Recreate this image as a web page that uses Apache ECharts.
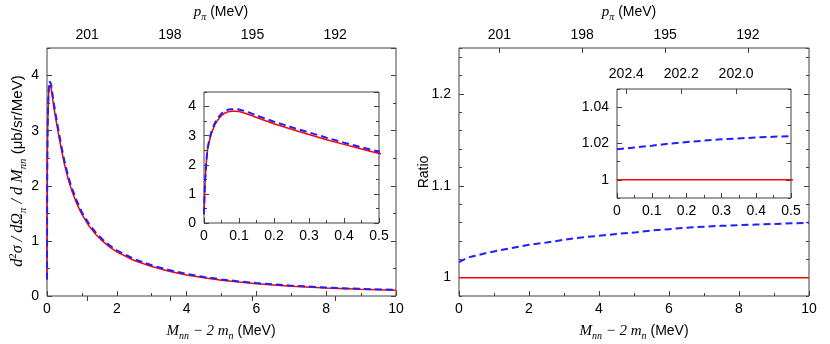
<!DOCTYPE html>
<html><head><meta charset="utf-8">
<script src="https://cdn.jsdelivr.net/npm/echarts@6/dist/echarts.min.js"></script>
<style>html,body{margin:0;padding:0;background:#fff}#c{width:830px;height:344px}</style>
</head><body><div id="c"></div>
<script>
// ---- data ----
const massX = [0, 0.002, 0.004, 0.007, 0.01, 0.015, 0.02, 0.03, 0.04, 0.05, 0.06, 0.07, 0.08, 0.09, 0.1, 0.115, 0.13, 0.16, 0.2, 0.25, 0.3, 0.35, 0.4, 0.45, 0.5, 0.6, 0.7, 0.85, 1.0, 1.2, 1.4, 1.6, 1.8, 2.0, 2.5, 3.0, 3.5, 4.0, 4.5, 5.0, 5.5, 6.0, 7.0, 8.0, 9.0, 10];
const crossRed = [0.3, 1.1, 1.6, 2.12, 2.5, 2.8, 3.03, 3.35, 3.55, 3.69, 3.78, 3.825, 3.84, 3.84, 3.83, 3.78, 3.72, 3.58, 3.41, 3.22, 3.04, 2.86, 2.70, 2.54, 2.39, 2.135, 1.93, 1.68, 1.48, 1.275, 1.115, 0.99, 0.886, 0.80, 0.645, 0.535, 0.45, 0.383, 0.33, 0.287, 0.252, 0.222, 0.178, 0.146, 0.122, 0.105];
const crossBlue = [0.3, 1.12, 1.63, 2.16, 2.55, 2.85, 3.09, 3.41, 3.62, 3.76, 3.85, 3.895, 3.91, 3.91, 3.90, 3.85, 3.79, 3.65, 3.48, 3.29, 3.11, 2.93, 2.76, 2.60, 2.45, 2.19, 1.98, 1.73, 1.52, 1.313, 1.15, 1.022, 0.916, 0.828, 0.67, 0.557, 0.47, 0.40, 0.346, 0.301, 0.265, 0.234, 0.188, 0.154, 0.129, 0.111];
const ratioX = [0, 0.05, 0.1, 0.15, 0.2, 0.25, 0.3, 0.35, 0.4, 0.45, 0.5, 0.75, 1, 1.5, 2, 2.5, 3, 3.5, 4, 4.5, 5, 5.5, 6, 6.5, 7, 7.5, 8, 8.5, 9, 9.5, 10];
const ratioBlue = [1.0168, 1.0178, 1.0188, 1.0199, 1.0208, 1.0216, 1.0223, 1.0228, 1.0233, 1.0237, 1.0241, 1.0266, 1.0285, 1.0322, 1.0358, 1.0382, 1.0412, 1.0438, 1.0455, 1.0476, 1.0490, 1.0513, 1.0528, 1.0543, 1.0555, 1.0564, 1.0571, 1.0578, 1.0585, 1.0591, 1.0597];
const ratioRedX = [0, 10];
const ratioRedY = [1, 1];
const pTicksMain = [201, 198, 195, 192];
const pTicksInset = [202.4, 202.2, 202.0];
const ratioMajor = [1, 1.1, 1.2];
const insetRatioMajor = [1, 1.02, 1.04];

// ---- styles ----
const SANS = '"Liberation Sans", Arial, sans-serif';
const SERIF = '"Liberation Serif", "Times New Roman", serif';
const AXC = '#404040';
const RED = '#ff0000', BLUE = '#1f1fff';
const LBL = {color: '#000', fontSize: 14, fontFamily: SANS};
const tick = (len, extra) => Object.assign({show: true, inside: true, length: len, lineStyle: {color: AXC, width: 1}}, extra || {});
const noLine = {show: false};
const noSplit = {show: false};
const noLbl = {show: false};
const zip = (a, b) => a.map((v, i) => [v, b[i]]);

const grids = [
  {left: 47, top: 48, width: 349, height: 248},
  {left: 459, top: 48, width: 350, height: 248},
  {left: 204, top: 92, width: 175, height: 131},
  {left: 617, top: 89, width: 174, height: 109}
].map(g => Object.assign(g, {show: true, borderColor: AXC, borderWidth: 1, backgroundColor: '#fff', containLabel: false}));

const fmtInsetX = v => v === 0 ? '0' : v.toFixed(1);
const fmtR = v => v === 1 ? '1' : String(+v.toFixed(2));

// axis helper: value axis
function ax(grid, pos, min, max, o) {
  return Object.assign({gridIndex: grid, type: 'value', position: pos, min, max, axisLine: noLine, splitLine: noSplit, axisLabel: noLbl, axisTick: tick(5)}, o);
}

const xAxis = [
  // grid 0
  ax(0, 'bottom', 0, 10, {interval: 2, axisLabel: Object.assign({margin: 6}, LBL)}),
  ax(0, 'bottom', 0, 10, {interval: 1, axisTick: tick(3)}),
  ax(0, 'top', 189.79, 202.46, {inverse: true, axisTick: tick(5, {customValues: pTicksMain}), axisLabel: Object.assign({margin: 6, customValues: pTicksMain}, LBL)}),
  // grid 1
  ax(1, 'bottom', 0, 10, {interval: 2, axisLabel: Object.assign({margin: 6}, LBL)}),
  ax(1, 'bottom', 0, 10, {interval: 1, axisTick: tick(3)}),
  ax(1, 'top', 189.79, 202.46, {inverse: true, axisTick: tick(5, {customValues: pTicksMain}), axisLabel: Object.assign({margin: 6, customValues: pTicksMain}, LBL)}),
  // grid 2 (left inset)
  ax(2, 'bottom', 0, 0.5, {interval: 0.1, axisLabel: Object.assign({margin: 6, formatter: fmtInsetX}, LBL)}),
  ax(2, 'bottom', 0, 0.5, {interval: 0.05, axisTick: tick(3)}),
  // grid 3 (right inset)
  ax(3, 'bottom', 0, 0.5, {interval: 0.1, axisLabel: Object.assign({margin: 6, formatter: fmtInsetX}, LBL)}),
  ax(3, 'bottom', 0, 0.5, {interval: 0.05, axisTick: tick(3)}),
  ax(3, 'top', 201.80, 202.434, {inverse: true, axisTick: tick(5, {customValues: pTicksInset}), axisLabel: Object.assign({margin: 8, customValues: pTicksInset, formatter: v => v.toFixed(1)}, LBL)})
];

const yAxis = [
  // grid 0 : 0..3
  ax(0, 'left', 0, 4.5, {interval: 1, axisLabel: Object.assign({margin: 8, showMaxLabel: false}, LBL)}),
  ax(0, 'left', 0, 4.5, {interval: 0.5, axisTick: tick(3)}),
  ax(0, 'right', 0, 4.5, {interval: 1}),
  ax(0, 'right', 0, 4.5, {interval: 0.5, axisTick: tick(3)}),
  // grid 1 : 4..7
  ax(1, 'left', 0.98, 1.25, {axisTick: tick(5, {customValues: ratioMajor}), axisLabel: Object.assign({margin: 8, customValues: ratioMajor, formatter: fmtR}, LBL)}),
  ax(1, 'left', 0.98, 1.25, {interval: 0.02, axisTick: tick(3)}),
  ax(1, 'right', 0.98, 1.25, {axisTick: tick(5, {customValues: ratioMajor})}),
  ax(1, 'right', 0.98, 1.25, {interval: 0.02, axisTick: tick(3)}),
  // grid 2 : 8..11
  ax(2, 'left', 0, 4.5, {interval: 1, axisLabel: Object.assign({margin: 8, showMaxLabel: false}, LBL)}),
  ax(2, 'left', 0, 4.5, {interval: 0.5, axisTick: tick(3)}),
  ax(2, 'right', 0, 4.5, {interval: 1}),
  ax(2, 'right', 0, 4.5, {interval: 0.5, axisTick: tick(3)}),
  // grid 3 : 12..15
  ax(3, 'left', 0.99, 1.05, {axisTick: tick(5, {customValues: insetRatioMajor}), axisLabel: Object.assign({margin: 8, customValues: insetRatioMajor, formatter: fmtR}, LBL)}),
  ax(3, 'left', 0.99, 1.05, {interval: 0.01, axisTick: tick(3)}),
  ax(3, 'right', 0.99, 1.05, {axisTick: tick(5, {customValues: insetRatioMajor})}),
  ax(3, 'right', 0.99, 1.05, {interval: 0.01, axisTick: tick(3)})
];

const base = {type: 'line', showSymbol: false, symbol: 'none', smooth: false, clip: true, silent: true, animation: false};
const redLine = (xi, yi, data) => Object.assign({}, base, {xAxisIndex: xi, yAxisIndex: yi, data, lineStyle: {color: RED, width: 1.5}, z: 3});
const blueLine = (xi, yi, data) => Object.assign({}, base, {xAxisIndex: xi, yAxisIndex: yi, data, lineStyle: {color: BLUE, width: 2, type: [7, 4]}, z: 4});

const series = [
  redLine(0, 0, zip(massX, crossRed)),
  blueLine(0, 0, zip(massX, crossBlue)),
  redLine(6, 8, zip(massX, crossRed)),
  blueLine(6, 8, zip(massX, crossBlue)),
  redLine(3, 4, zip(ratioRedX, ratioRedY)),
  blueLine(3, 4, zip(ratioX, ratioBlue)),
  redLine(8, 12, zip(ratioRedX, ratioRedY)),
  blueLine(8, 12, zip(ratioX, ratioBlue))
];

const mkRich = (k) => ({
  i: {fontFamily: SERIF, fontStyle: 'italic', fontSize: 15 * k, lineHeight: 20 * k, color: '#000'},
  s: {fontFamily: SERIF, fontStyle: 'italic', fontSize: 10 * k, lineHeight: 10 * k, verticalAlign: 'bottom', color: '#000'},
  u: {fontFamily: SERIF, fontSize: 10 * k, lineHeight: 10 * k, verticalAlign: 'top', color: '#000'},
  r: {fontFamily: SANS, fontSize: 14 * k, lineHeight: 20 * k, color: '#000'}
});
const txt = (x, y, text, rot, k) => ({type: 'text', x, y, rotation: rot || 0, silent: true, z: 10,
  style: {text, rich: mkRich(k || 1), align: 'center', verticalAlign: 'middle', fill: '#000'}});

const xTitle = '{i|M}{s|nn}{i| − 2 m}{s|n}{r| (MeV)}';
const pTitle = '{i|p}{s|π}{r| (MeV)}';
const graphic = [
  txt(221, 331, xTitle),
  txt(634, 331, xTitle),
  txt(221, 12, pTitle),
  txt(629, 12, pTitle),
  txt(18, 171, '{i|d}{u|2}{i|σ / dΩ}{s|π}{i| / d M}{s|nn}{r| (μb/sr/MeV)}', Math.PI / 2, 1.08),
  txt(424, 172, '{r|Ratio}', Math.PI / 2)
];

const chart = echarts.init(document.getElementById('c'), null, {renderer: 'canvas'});
chart.setOption({animation: false, backgroundColor: '#fff', grid: grids, xAxis, yAxis, series, graphic});
</script>
</body></html>
